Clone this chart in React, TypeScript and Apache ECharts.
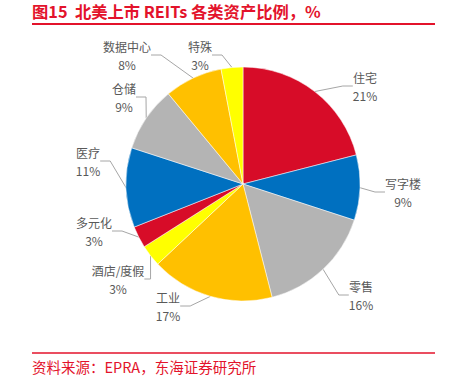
import React, { useEffect, useRef } from "react";
import * as echarts from "echarts";

const categories = ["住宅", "写字楼", "零售", "工业", "酒店/度假", "多元化", "医疗", "仓储", "数据中心", "特殊"];
const shares = [21, 9, 16, 17, 3, 3, 11, 9, 8, 3];
const sliceColors = ["#D70C28", "#0070C0", "#B4B4B4", "#FFC000", "#FFFF00", "#D70C28", "#0070C0", "#B4B4B4", "#FFC000", "#FFFF00"];
const titleText = "图15  北美上市 REITs 各类资产比例，%";
const sourceText = "资料来源：EPRA，东海证券研究所";

// label placement (centre x, top y of the two-line label block)
const labelCenterX = [365, 403, 361, 168, 118, 94, 88, 124, 127, 200];
const labelTopY = [68, 174, 277, 288, 261, 213, 143, 79, 37, 37];

export default function App() {
  const ref = useRef<HTMLDivElement>(null);
  useEffect(() => {
    if (!ref.current) return;
    const chart = echarts.init(ref.current, undefined, { renderer: "svg" });
    const font = "'Noto Sans CJK SC', 'Noto Sans', sans-serif";
    chart.setOption({
      animation: false,
      backgroundColor: "#ffffff",
      graphic: [
        {
          type: "text",
          left: 32,
          top: 3,
          style: { text: titleText, fill: "#E3132B", font: `bold 16.3px ${font}` },
        },
        { type: "line", shape: { x1: 32, y1: 24, x2: 435, y2: 24 }, style: { stroke: "#E3132B", lineWidth: 2 } },
        { type: "line", shape: { x1: 32, y1: 353, x2: 435, y2: 353 }, style: { stroke: "#E3132B", lineWidth: 1.5 } },
        {
          type: "text",
          left: 32,
          top: 359,
          style: { text: sourceText, fill: "#E3132B", font: `14.5px ${font}` },
        },
      ],
      series: [
        {
          type: "pie",
          center: [243, 184],
          radius: 117,
          startAngle: 90,
          clockwise: true,
          avoidLabelOverlap: false,
          itemStyle: { borderColor: "#ffffff", borderWidth: 0.5 },
          label: {
            show: true,
            position: "outside",
            formatter: "{n|{b}}\n{p|{c}%}",
            color: "#595959",
            fontFamily: font,
            fontSize: 12,
            lineHeight: 18,
            rich: {
              n: { align: "center", fontSize: 12, lineHeight: 18, color: "#595959", fontFamily: font },
              p: { align: "center", fontSize: 12, lineHeight: 18, color: "#595959", fontFamily: font },
            },
          },
          labelLine: { show: true, length: 10, length2: 10, lineStyle: { color: "#A6A6A6", width: 1 } },
          labelLayout: (params: any) => ({
            x: labelCenterX[params.dataIndex],
            y: labelTopY[params.dataIndex],
            align: "center",
            verticalAlign: "top",
          }),
          data: categories.map((name, i) => ({
            name,
            value: shares[i],
            itemStyle: { color: sliceColors[i] },
          })),
        },
      ],
    });
    return () => chart.dispose();
  }, []);
  return <div ref={ref} style={{ position: "fixed", left: 0, top: 0, width: 450, height: 382 }} />;
}
